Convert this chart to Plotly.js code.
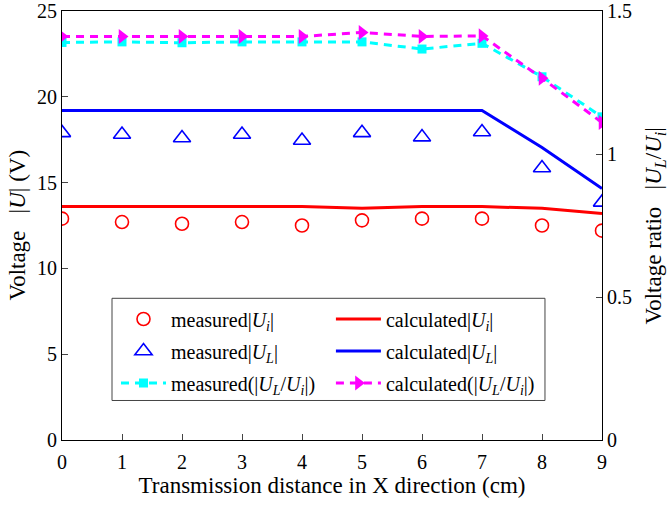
<!DOCTYPE html>
<html>
<head>
<meta charset="utf-8">
<script src="https://cdn.plot.ly/plotly-3.0.1.min.js"></script>
<style>html,body{margin:0;padding:0;background:#fff;}#chart{width:670px;height:506px;}</style>
</head>
<body>
<div id="chart"></div>
<script>
const distance = [0, 1, 2, 3, 4, 5, 6, 7, 8, 9];
const measuredUi = [12.9, 12.7, 12.6, 12.7, 12.5, 12.8, 12.9, 12.9, 12.5, 12.2];
const calculatedUi = [13.6, 13.6, 13.6, 13.6, 13.6, 13.5, 13.6, 13.6, 13.5, 13.2];
const measuredUL = [17.9, 17.8, 17.6, 17.8, 17.45, 17.9, 17.65, 17.95, 15.85, 13.85];
const calculatedUL = [19.2, 19.2, 19.2, 19.2, 19.2, 19.2, 19.2, 19.2, 17.05, 14.65];
const measuredRatio = [1.39, 1.392, 1.389, 1.392, 1.392, 1.392, 1.367, 1.387, 1.27, 1.13];
const calculatedRatio = [1.411, 1.411, 1.411, 1.411, 1.411, 1.425, 1.411, 1.413, 1.265, 1.11];
const xTicks = [0, 1, 2, 3, 4, 5, 6, 7, 8, 9];
const yTicks = [0, 5, 10, 15, 20, 25];
const y2Ticks = [0, 0.5, 1, 1.5];
const y2TickText = ['0', '0.5', '1', '1.5'];

const FONT = "'Liberation Serif', 'Times New Roman', serif";

const traces = [
  {x: distance, y: measuredUi, name: 'measured|<i>U</i><sub><i>i</i></sub>|', mode: 'markers', legend: 'legend', legendgroup: 'a1',
   marker: {symbol: 'circle-open', size: 13, color: '#ff0000', line: {width: 1.6, color: '#ff0000'}}},
  {x: distance, y: calculatedUi, name: 'calculated|<i>U</i><sub><i>i</i></sub>|', mode: 'lines', legend: 'legend2', legendgroup: 'b1',
   line: {color: '#ff0000', width: 3}},
  {x: distance, y: measuredUL, name: 'measured|<i>U</i><sub><i>L</i></sub>|', mode: 'markers', legend: 'legend', legendgroup: 'a2',
   marker: {symbol: 'triangle-up-open', size: 15, color: '#0000ff', line: {width: 1.6, color: '#0000ff'}}},
  {x: distance, y: calculatedUL, name: 'calculated|<i>U</i><sub><i>L</i></sub>|', mode: 'lines', legend: 'legend2', legendgroup: 'b2',
   line: {color: '#0000ff', width: 3}},
  {x: distance, y: measuredRatio, yaxis: 'y2', name: 'measured(|<i>U</i><sub><i>L</i></sub>/<i>U</i><sub><i>i</i></sub>|)', mode: 'lines+markers', legend: 'legend', legendgroup: 'a3',
   line: {color: '#00ffff', width: 3, dash: '8px,6px'}, marker: {symbol: 'square', size: 9, color: '#00ffff'}},
  {x: distance, y: calculatedRatio, yaxis: 'y2', name: 'calculated(|<i>U</i><sub><i>L</i></sub>/<i>U</i><sub><i>i</i></sub>|)', mode: 'lines+markers', legend: 'legend2', legendgroup: 'b3',
   line: {color: '#ff00ff', width: 3, dash: '8px,6px'}, marker: {symbol: 'triangle-right', size: 13, color: '#ff00ff'}}
];

const legendCommon = {
  orientation: 'v', yanchor: 'top', xanchor: 'left', y: 0.3275,
  itemwidth: 45, tracegroupgap: 3, borderwidth: 0, bgcolor: 'rgba(0,0,0,0)',
  font: {family: FONT, size: 20, color: '#000'}
};

const layout = {
  width: 670, height: 506,
  margin: {l: 62, r: 68, t: 11, b: 66},
  paper_bgcolor: '#fff', plot_bgcolor: '#fff',
  font: {family: FONT, size: 20, color: '#000'},
  showlegend: true,
  legend: Object.assign({}, legendCommon, {x: 0.1}),
  legend2: Object.assign({}, legendCommon, {x: 0.498}),
  shapes: [
    {type: 'rect', xref: 'paper', yref: 'paper', x0: 0.0926, x1: 0.8944, y0: 0.0921, y1: 0.3303,
     line: {color: '#444', width: 1}, fillcolor: '#fff', layer: 'below'}
  ],
  xaxis: {
    range: [0, 9], tickmode: 'array', tickvals: xTicks, ticks: 'inside', ticklen: 6,
    showline: true, linecolor: '#000', linewidth: 1, mirror: true, showgrid: false, zeroline: false,
    tickfont: {family: FONT, size: 20}, ticklabelstandoff: 4, ticklabeloverflow: 'allow',
    title: {text: 'Transmission distance in X direction (cm)', font: {family: FONT, size: 23}, standoff: 4}
  },
  yaxis: {
    range: [0, 25], tickmode: 'array', tickvals: yTicks, ticks: 'inside', ticklen: 6,
    showline: true, linecolor: '#000', linewidth: 1, showgrid: false, zeroline: false,
    tickfont: {family: FONT, size: 20}, ticklabeloverflow: 'allow'
  },
  yaxis2: {
    overlaying: 'y', side: 'right', range: [0, 1.5], tickmode: 'array', tickvals: y2Ticks, ticktext: y2TickText,
    ticks: 'inside', ticklen: 6, showline: true, linecolor: '#000', linewidth: 1, showgrid: false, zeroline: false,
    tickfont: {family: FONT, size: 20}, ticklabeloverflow: 'allow'
  },
  annotations: [
    {text: 'Voltage&nbsp;&nbsp;&nbsp;|<i>U</i>| (V)', xref: 'paper', yref: 'paper', x: -0.0833, y: 0.5,
     textangle: -90, showarrow: false, xanchor: 'center', yanchor: 'middle', font: {family: FONT, size: 23}},
    {text: 'Voltage ratio&nbsp;&nbsp;&nbsp;|<i>U</i><sub><i>L</i></sub>/<i>U</i><sub><i>i</i></sub>|', xref: 'paper', yref: 'paper', x: 1.098, y: 0.5,
     textangle: -90, showarrow: false, xanchor: 'center', yanchor: 'middle', font: {family: FONT, size: 23}}
  ]
};

Plotly.newPlot('chart', traces, layout, {displayModeBar: false, staticPlot: true});
</script>
</body>
</html>
